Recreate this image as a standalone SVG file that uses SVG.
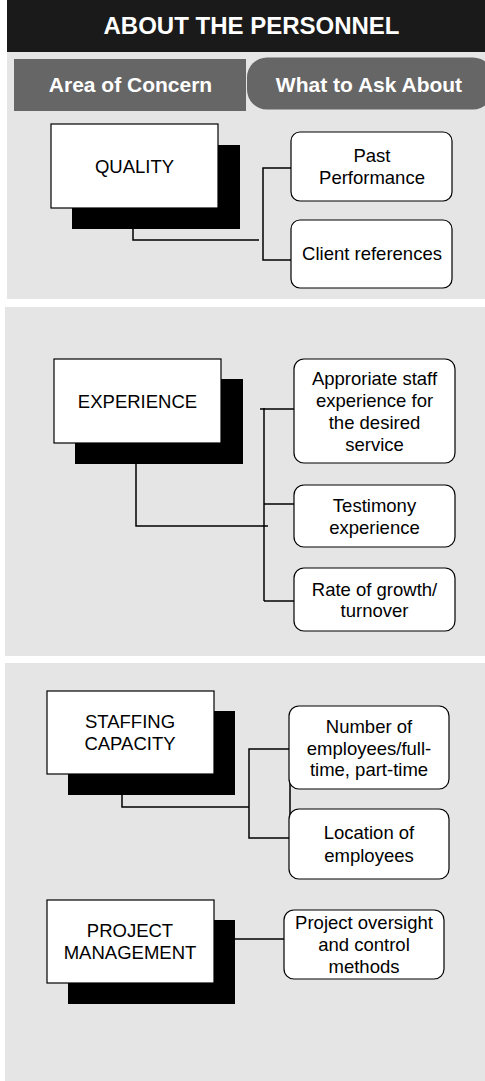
<svg xmlns="http://www.w3.org/2000/svg" width="485" height="1081" viewBox="0 0 485 1081">
<style>
.panel{fill:#e5e5e5}
.tab{fill:#666666}
.main{fill:#ffffff;stroke:#000;stroke-width:1.2}
.shadow{fill:#000}
.item{fill:#ffffff;stroke:#000;stroke-width:1.2}
.t{font-family:"Liberation Sans",Arial,sans-serif;font-size:18.5px;fill:#000;text-anchor:middle}
.hd{font-family:"Liberation Sans",Arial,sans-serif;font-weight:bold;fill:#fff;text-anchor:middle}
.con{fill:none;stroke:#000;stroke-width:1.5}
</style>
<rect width="485" height="1081" fill="#ffffff"/>
<g id="header">
<rect x="7" y="0" width="478" height="52" fill="#1a1a1a"/>
<text class="hd" x="251.5" y="34" font-size="24">ABOUT THE PERSONNEL</text>
</g>
<rect class="panel" x="7" y="52" width="478" height="247"/>
<rect class="panel" x="5" y="307" width="480" height="349"/>
<rect class="panel" x="5" y="663" width="480" height="418"/>
<g id="tab-area">
<rect class="tab" x="14" y="59" width="232" height="52"/>
<text class="hd" x="130.5" y="91.5" font-size="21">Area of Concern</text>
</g>
<g id="tab-ask">
<rect class="tab" x="247" y="57.5" width="246" height="52" rx="20"/>
<text class="hd" x="369" y="91.5" font-size="21">What to Ask About</text>
</g>
<g id="connectors">
<polyline class="con" points="133,208 133,240 259,240"/>
<polyline class="con" points="291,168 263,168 263,260 291,260"/>
<polyline class="con" points="136,464 136,526 268,526"/>
<line class="con" x1="264" y1="408" x2="264" y2="601"/>
<line class="con" x1="260" y1="409" x2="294" y2="409"/>
<line class="con" x1="264" y1="504" x2="294" y2="504"/>
<line class="con" x1="264" y1="601" x2="295" y2="601"/>
<polyline class="con" points="122,795 122,807 249,807"/>
<rect class="con" x="249" y="749" width="41" height="89"/>
<line class="con" x1="235" y1="939" x2="285" y2="939"/>
</g>
<g id="quality">
<rect class="shadow" x="72" y="145" width="168" height="84"/>
<rect class="main" x="51" y="124" width="167" height="84"/>
<text class="t" x="134.5" y="173">QUALITY</text>
</g>
<g id="past-performance">
<rect class="item" x="291" y="132" width="161" height="69" rx="9"/>
<text class="t" x="372" y="162">Past</text>
<text class="t" x="372" y="184">Performance</text>
</g>
<g id="client-references">
<rect class="item" x="291" y="220" width="161" height="68" rx="9"/>
<text class="t" x="372" y="260">Client references</text>
</g>
<g id="experience">
<rect class="shadow" x="75" y="379" width="168" height="85"/>
<rect class="main" x="54" y="359" width="167" height="84"/>
<text class="t" x="137.5" y="408">EXPERIENCE</text>
</g>
<g id="staff-experience">
<rect class="item" x="294" y="359" width="161" height="104" rx="10"/>
<text class="t" x="374.5" y="385">Approriate staff</text>
<text class="t" x="374.5" y="407">experience for</text>
<text class="t" x="374.5" y="429">the desired</text>
<text class="t" x="374.5" y="451">service</text>
</g>
<g id="testimony">
<rect class="item" x="294" y="485" width="161" height="62" rx="10"/>
<text class="t" x="374.5" y="512">Testimony</text>
<text class="t" x="374.5" y="534">experience</text>
</g>
<g id="growth">
<rect class="item" x="294" y="568" width="161" height="63" rx="10"/>
<text class="t" x="374.5" y="596">Rate of growth/</text>
<text class="t" x="374.5" y="617">turnover</text>
</g>
<g id="staffing">
<rect class="shadow" x="68" y="711" width="167" height="84"/>
<rect class="main" x="47" y="691" width="167" height="83"/>
<text class="t" x="130" y="728">STAFFING</text>
<text class="t" x="130" y="750">CAPACITY</text>
</g>
<g id="number-employees">
<rect class="item" x="289" y="706" width="160" height="83" rx="10"/>
<text class="t" x="369" y="733">Number of</text>
<text class="t" x="369" y="755">employees/full-</text>
<text class="t" x="369" y="776">time, part-time</text>
</g>
<g id="location">
<rect class="item" x="289" y="809" width="160" height="70" rx="10"/>
<text class="t" x="369" y="839">Location of</text>
<text class="t" x="369" y="862">employees</text>
</g>
<g id="project-management">
<rect class="shadow" x="68" y="920" width="167" height="84"/>
<rect class="main" x="47" y="900" width="167" height="83"/>
<text class="t" x="130" y="937">PROJECT</text>
<text class="t" x="130" y="959">MANAGEMENT</text>
</g>
<g id="oversight">
<rect class="item" x="284" y="910" width="160" height="69" rx="10"/>
<text class="t" x="364" y="929">Project oversight</text>
<text class="t" x="364" y="951">and control</text>
<text class="t" x="364" y="973">methods</text>
</g>
</svg>
